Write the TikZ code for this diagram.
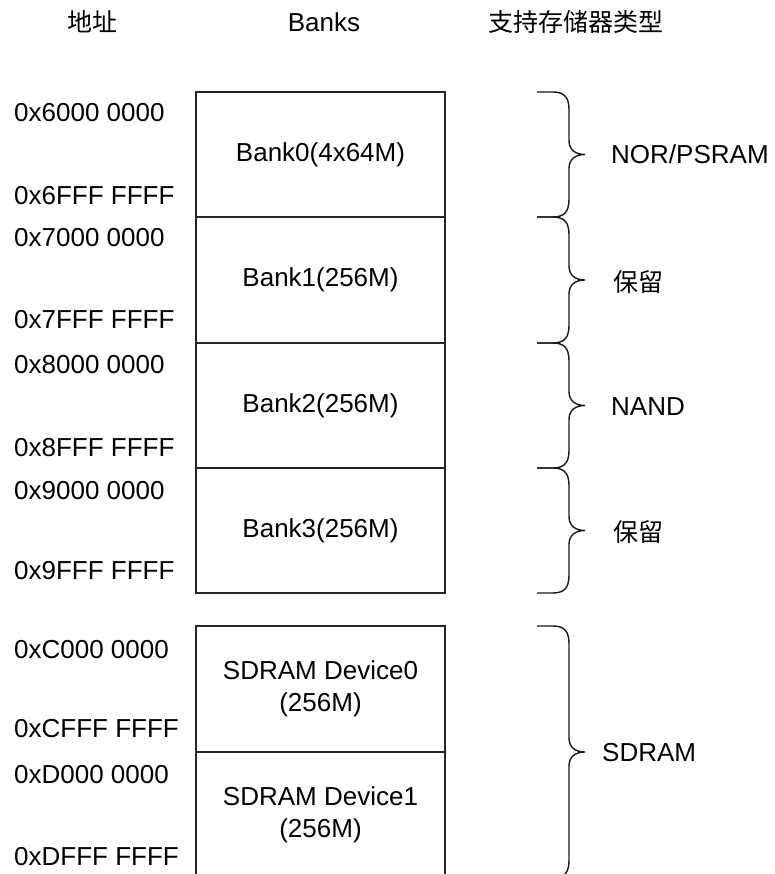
\documentclass[tikz,border=0pt]{standalone}
\usepackage{fontspec}
\setmainfont{Liberation Sans}
\newfontfamily\cjk{Noto Sans CJK SC}
\begin{document}
\begin{tikzpicture}[x=1pt,y=-1pt,
  txt/.style={font=\fontsize{26pt}{32pt}\selectfont, inner sep=0pt},
  cjktxt/.style={font=\cjk\fontsize{25pt}{30pt}\selectfont, inner sep=0pt},
  addr/.style={txt, anchor=west},
  bankbox/.style={draw=black!85, line width=1.3pt, minimum width=249pt, inner sep=0pt, outer sep=0pt, align=center, txt},
  bracestyle/.style={draw=black!90, line width=1.4pt}]
\useasboundingbox (0,0) rectangle (775,874);
\clip (0,0) rectangle (775,874);
% headers
\node[cjktxt] (h1) at (92,22) {地址};
\node[txt] (h2) at (324,22) {Banks};
\node[cjktxt] (h3) at (576,22) {支持存储器类型};
% banks
\node[bankbox, minimum height=125pt] (b0) at (320.5,154.5) {Bank0(4x64M)};
\node[bankbox, minimum height=126pt] (b1) at (320.5,280) {Bank1(256M)};
\node[bankbox, minimum height=125pt] (b2) at (320.5,405.5) {Bank2(256M)};
\node[bankbox, minimum height=125pt] (b3) at (320.5,530.5) {Bank3(256M)};
\node[bankbox, minimum height=126pt] (s0) at (320.5,689) {SDRAM Device0\\(256M)};
\node[bankbox, minimum height=126pt] (s1) at (320.5,815) {SDRAM Device1\\(256M)};
% addresses
\node[addr] (a1) at (14,113) {0x6000 0000};
\node[addr] (a2) at (14,196) {0x6FFF FFFF};
\node[addr] (a3) at (14,238) {0x7000 0000};
\node[addr] (a4) at (14,320) {0x7FFF FFFF};
\node[addr] (a5) at (14,365) {0x8000 0000};
\node[addr] (a6) at (14,448) {0x8FFF FFFF};
\node[addr] (a7) at (14,491) {0x9000 0000};
\node[addr] (a8) at (14,571) {0x9FFF FFFF};
\node[addr] (a9) at (14,650) {0xC000 0000};
\node[addr] (a10) at (14,729) {0xCFFF FFFF};
\node[addr] (a11) at (14,775) {0xD000 0000};
\node[addr] (a12) at (14,857) {0xDFFF FFFF};
% braces
\newcommand\membrace[3]{%
  \draw[bracestyle] (537,#1) -- (553,#1) .. controls (565,#1) and (569,#1+6) .. (569,#1+18)
    -- (569,#2-14) .. controls (569,#2-5) and (575,#2) .. (585,#2)
    .. controls (575,#2) and (569,#2+5) .. (569,#2+14)
    -- (569,#3-18) .. controls (569,#3-6) and (565,#3) .. (553,#3) -- (537,#3);}
\membrace{92}{154.5}{217}
\membrace{217}{280}{343}
\membrace{343}{405.5}{468}
\membrace{468}{530.5}{593}
\membrace{626}{752}{878}
% type labels
\node[txt, anchor=west] (t1) at (611,154.5) {NOR/PSRAM};
\node[cjktxt, anchor=west] (t2) at (613,282) {保留};
\node[txt, anchor=west] (t3) at (611,407) {NAND};
\node[cjktxt, anchor=west] (t4) at (613,532) {保留};
\node[txt, anchor=west] (t5) at (602,753) {SDRAM};
\end{tikzpicture}
\end{document}
